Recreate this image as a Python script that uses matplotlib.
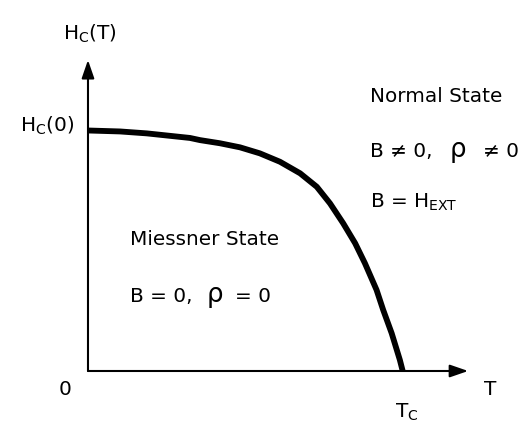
import matplotlib
matplotlib.use("Agg")
import matplotlib.pyplot as plt

plt.rcParams.update({"font.family": "DejaVu Sans", "mathtext.fontset": "dejavusans",
                     "mathtext.default": "regular"})

# critical field curve H_c(T)/H_c(0) vs T/T_c
T_RED = [0.0, 0.102, 0.187, 0.324, 0.356, 0.419, 0.483, 0.546, 0.610, 0.674, 0.727,
         0.769, 0.811, 0.849, 0.880, 0.917, 0.938, 0.965, 0.991, 1.0]
H_RED = [1.0, 0.996, 0.988, 0.969, 0.960, 0.947, 0.930, 0.905, 0.870, 0.822, 0.766,
         0.697, 0.614, 0.531, 0.448, 0.337, 0.254, 0.157, 0.046, 0.0]

FS = 14.4
fig = plt.figure(figsize=(5.28, 4.24), dpi=100)
ax = fig.add_axes([0, 0, 1, 1])
ax.set_xlim(-0.2796, 1.3982)
ax.set_ylim(-0.2204, 1.5426)
ax.axis("off")

# axes with arrow heads
arr = dict(arrowstyle="-|>,head_length=1.1,head_width=0.38", lw=1.5, color="k",
           shrinkA=0, shrinkB=0)
ax.annotate("", xy=(0, 1.293), xytext=(0, 0), arrowprops=arr)
ax.annotate("", xy=(1.208, 0), xytext=(0, 0), arrowprops=arr)

ax.plot(T_RED, H_RED, color="k", lw=4.2, solid_capstyle="butt", solid_joinstyle="round")

# axis labels
ax.text(0.006, 1.376, r"H$_\mathregular{C}$(T)", fontsize=FS, ha="center", va="baseline")
ax.text(-0.045, 0.994, r"H$_\mathregular{C}$(0)", fontsize=FS, ha="right", va="baseline")
ax.text(-0.073, -0.10, "0", fontsize=FS, ha="center", va="baseline")
ax.text(1.277, -0.10, "T", fontsize=FS, ha="center", va="baseline")
ax.text(0.975, -0.195, r"T$_\mathregular{C}$", fontsize=FS, ha="left", va="baseline")

# normal state region
ax.text(0.896, 1.118, "Normal State", fontsize=FS, ha="left", va="baseline")
ax.text(0.896, 0.890, "B ≠ 0,", fontsize=FS, ha="left", va="baseline")
ax.text(1.150, 0.890, "ρ", fontsize=FS * 1.3, ha="left", va="baseline")
ax.text(1.254, 0.890, "≠ 0", fontsize=FS, ha="left", va="baseline")
ax.text(0.896, 0.678, r"B = H$_\mathregular{EXT}$", fontsize=FS, ha="left", va="baseline")

# superconducting region
ax.text(0.134, 0.524, "Miessner State", fontsize=FS, ha="left", va="baseline")
ax.text(0.134, 0.287, "B = 0,", fontsize=FS, ha="left", va="baseline")
ax.text(0.376, 0.287, "ρ", fontsize=FS * 1.3, ha="left", va="baseline")
ax.text(0.467, 0.287, "= 0", fontsize=FS, ha="left", va="baseline")

fig.savefig("out.png", dpi=100)
